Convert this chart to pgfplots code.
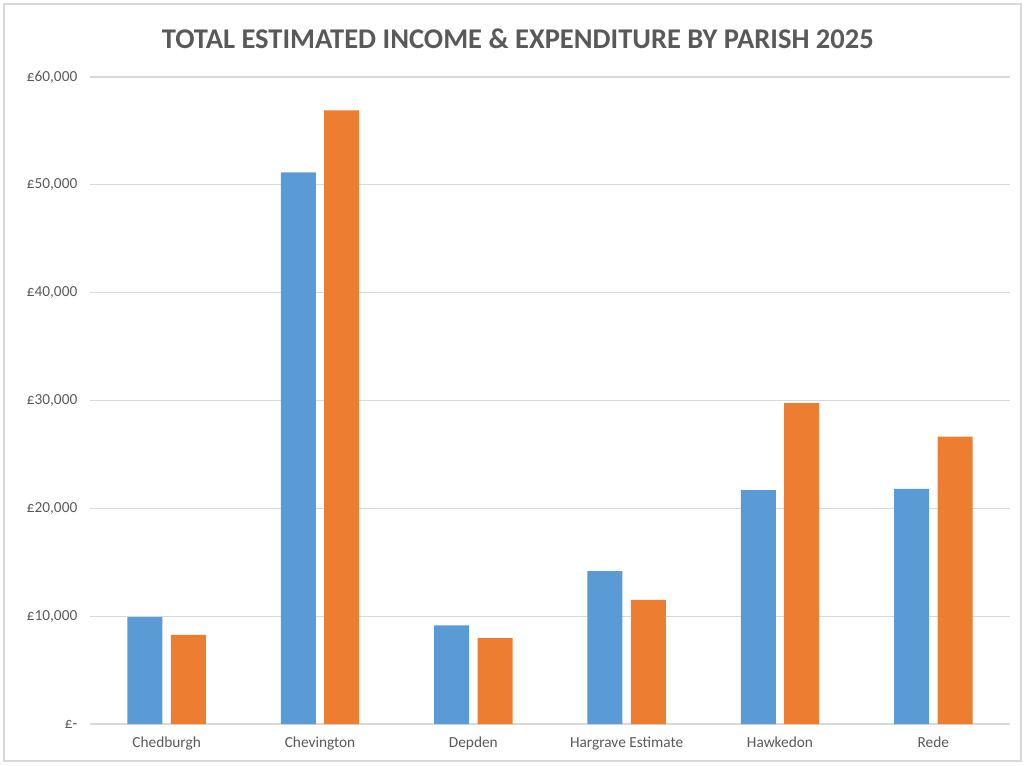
\documentclass[border=0pt]{standalone}
\usepackage{pgfplots}
\pgfplotsset{compat=1.18}
\usepackage{fontspec}
\setmainfont{Carlito}
\definecolor{inc}{HTML}{5B9BD5}
\definecolor{expd}{HTML}{ED7D31}
\definecolor{txt}{HTML}{595959}
\definecolor{gridc}{HTML}{D9D9D9}
\begin{document}
\begin{tikzpicture}
\path (0,0) rectangle (768.75pt,573.75pt);
\draw[gridc, line width=0.8pt] (3pt,3pt) rectangle (765.75pt,570.75pt);
\begin{axis}[
  at={(67.5pt,30.75pt)}, anchor=south west,
  scale only axis, width=690pt, height=485.25pt,
  xmin=-0.5, xmax=5.5, ymin=0, ymax=60000,
  scaled y ticks=false,
  ytick={0,10000,20000,30000,40000,50000,60000},
  yticklabels={{£-},{£10,000},{£20,000},{£30,000},{£40,000},{£50,000},{£60,000}},
  xtick={0,1,2,3,4,5},
  xticklabels={Chedburgh,Chevington,Depden,Hargrave Estimate,Hawkedon,Rede},
  axis line style={draw=none},
  major tick length=0pt,
  ymajorgrids, grid style={gridc, line width=0.9pt},
  tick label style={txt, font=\fontsize{11.5}{13}\selectfont},
  yticklabel style={xshift=-6pt},
  xticklabel style={yshift=-6pt},
  title={TOTAL ESTIMATED INCOME \& EXPENDITURE BY PARISH 2025},
  title style={at={(0.465,1)}, anchor=center, yshift=23pt, txt, font=\bfseries\fontsize{21.4}{24}\selectfont},
  bar width=26.25pt,
]
\addplot[ybar, fill=inc, draw=none, bar shift=-16.3pt] coordinates {
  (0,9900) (1,51150) (2,9150) (3,14170) (4,21700) (5,21800)};
\addplot[ybar, fill=expd, draw=none, bar shift=16.3pt] coordinates {
  (0,8270) (1,56900) (2,7970) (3,11500) (4,29750) (5,26650)};
\end{axis}
\end{tikzpicture}
\end{document}
